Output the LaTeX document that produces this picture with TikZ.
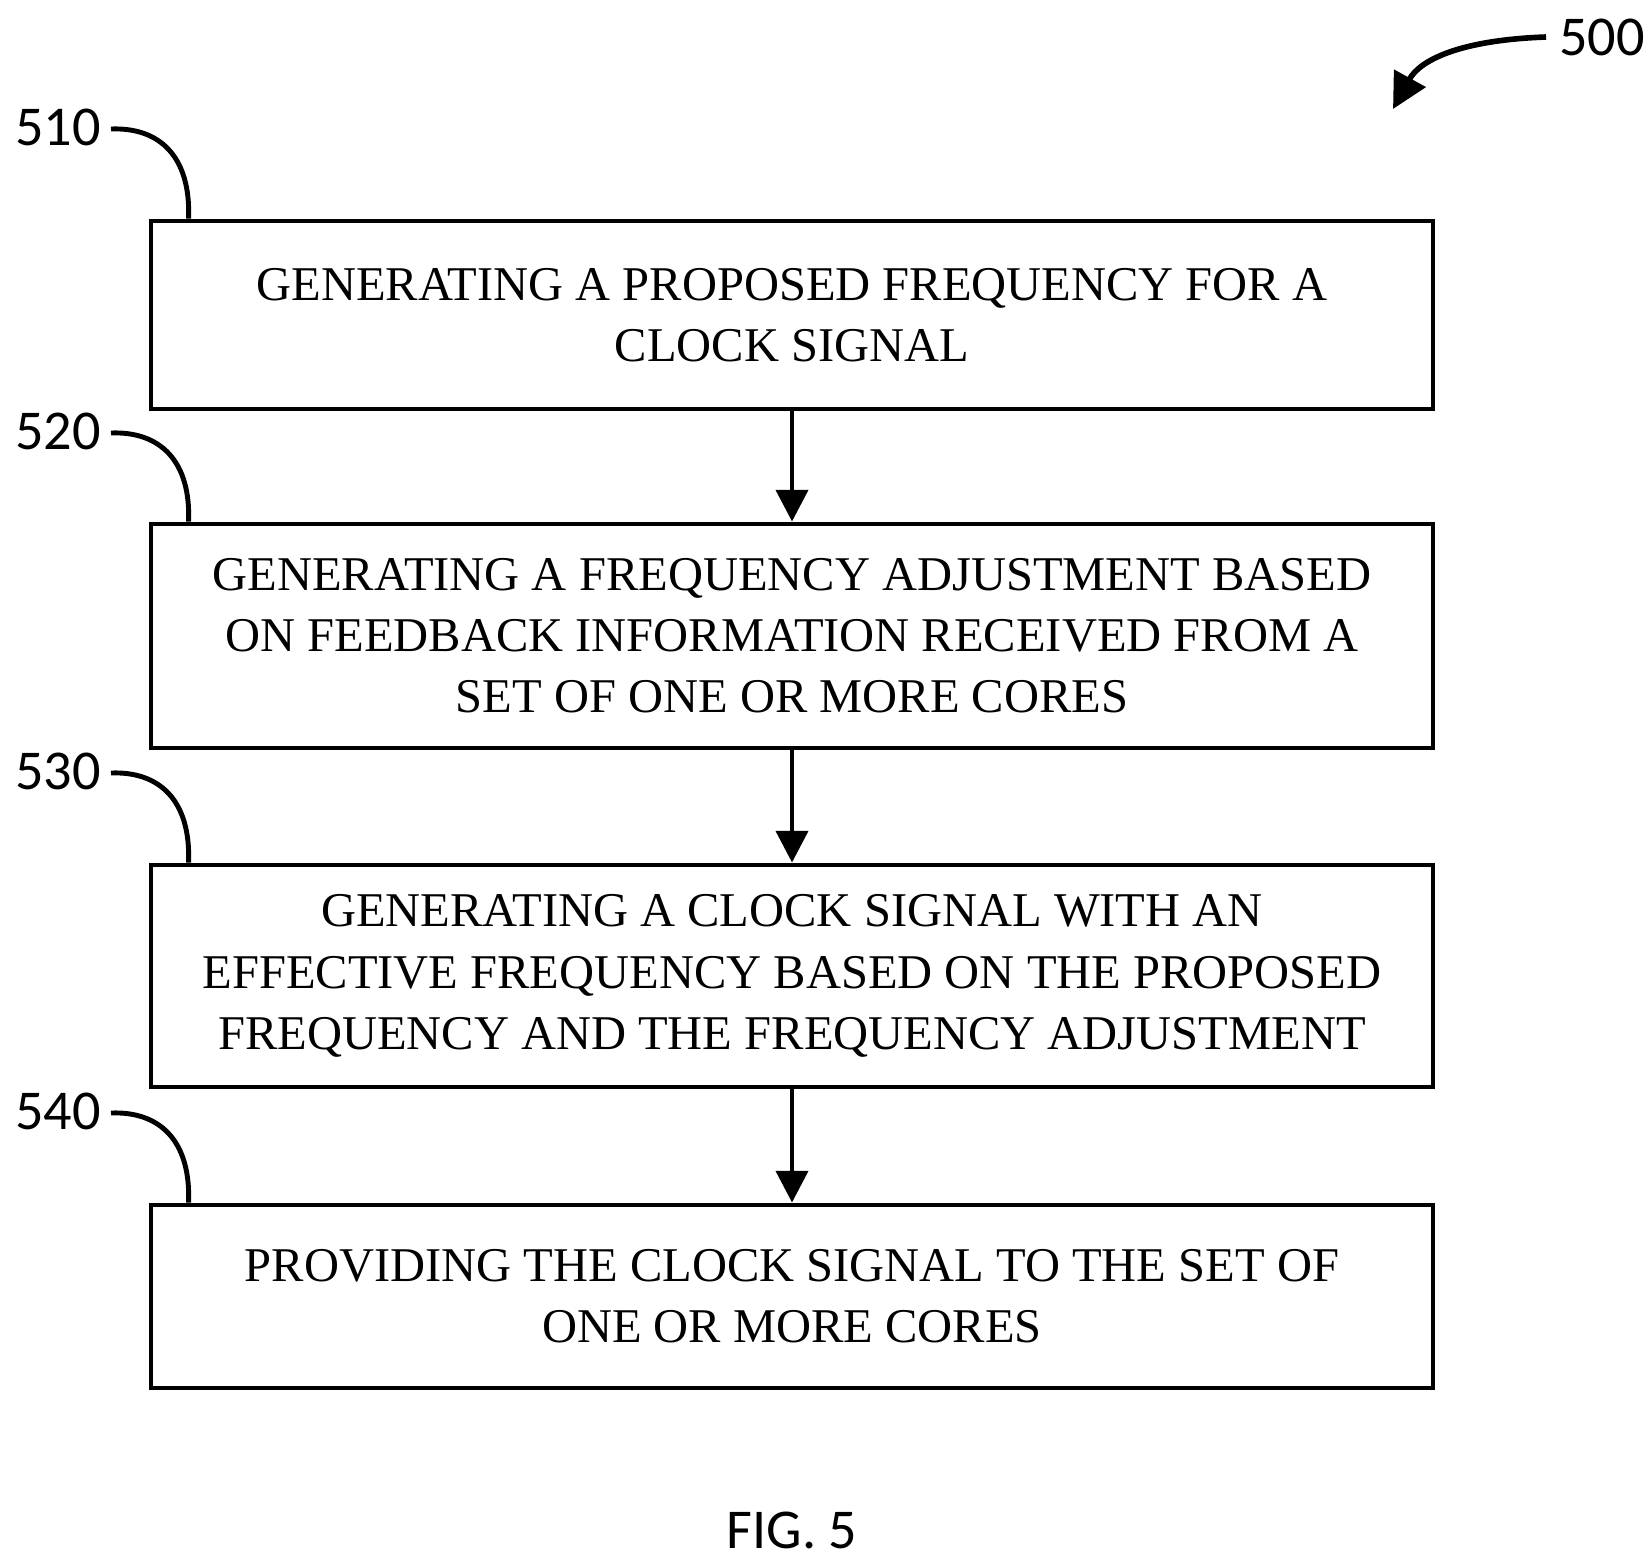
\documentclass[tikz,border=0pt]{standalone}
\usepackage{fontspec}
\setmainfont{Liberation Serif}
\newfontfamily\labelfont{Carlito}
\usetikzlibrary{positioning}
\usetikzlibrary{arrows.meta}

\begin{document}
\begin{tikzpicture}[x=1cm,y=-1cm]
        % ================= styles =================
        \tikzset{
            % step box: plain rectangle, serif caps text
            stepbox/.style={draw=black, line width=1.4pt, minimum width=12.82cm, align=center, inner sep=0pt,
                font=\fontsize{13.8}{17.4}\selectfont},
            % reference numerals
            refnum/.style={font=\labelfont\fontsize{16}{18}\selectfont, inner sep=0pt},
            flow/.style={line width=1.4pt, -{Triangle[length=9pt,width=9pt]}},
            lead/.style={line width=1.4pt}
        }
        \useasboundingbox (0,0) rectangle (16.52,15.61);

        % ================= steps =================
        \node[stepbox, minimum height=1.88cm] (s510) at (7.92,3.15)
            {GENERATING A PROPOSED FREQUENCY FOR A\\CLOCK SIGNAL};
        \node[stepbox, minimum height=2.24cm] (s520) at (7.92,6.36)
            {GENERATING A FREQUENCY ADJUSTMENT BASED\\ON FEEDBACK INFORMATION RECEIVED FROM A\\SET OF ONE OR MORE CORES};
        \node[stepbox, minimum height=2.22cm] (s530) at (7.92,9.76)
            {GENERATING A CLOCK SIGNAL WITH AN\\EFFECTIVE FREQUENCY BASED ON THE PROPOSED\\FREQUENCY AND THE FREQUENCY ADJUSTMENT};
        \node[stepbox, minimum height=1.83cm] (s540) at (7.92,12.965)
            {PROVIDING THE CLOCK SIGNAL TO THE SET OF\\ONE OR MORE CORES};

        % arrows between steps
        \draw[flow] (s510) -- (s520);
        \draw[flow] (s520) -- (s530);
        \draw[flow] (s530) -- (s540);

        % ================= reference numerals =================
        \foreach \n/\y in {510/1.27, 520/4.31, 530/7.71, 540/11.11} {
            \node[refnum] (r\n) at (0.58,\y) {\n};
            \draw[lead] (1.11,\y+0.02) .. controls (1.6,\y) and (1.91,\y+0.3) .. ([xshift=0.4cm]s\n.north west);
        }

        \node[refnum] (r500) at (16.02,0.37) {500};
        \coordinate (p500) at (13.93,1.09);
        \draw[line width=1.6pt, -{Triangle[length=10pt,width=10pt]}] (15.46,0.37) .. controls (14.6,0.4) and (14.2,0.6) .. (p500);

        \node[font=\labelfont\fontsize{16}{18}\selectfont] (fig) at (7.92,15.3) {FIG. 5};
    \end{tikzpicture}
\end{document}
